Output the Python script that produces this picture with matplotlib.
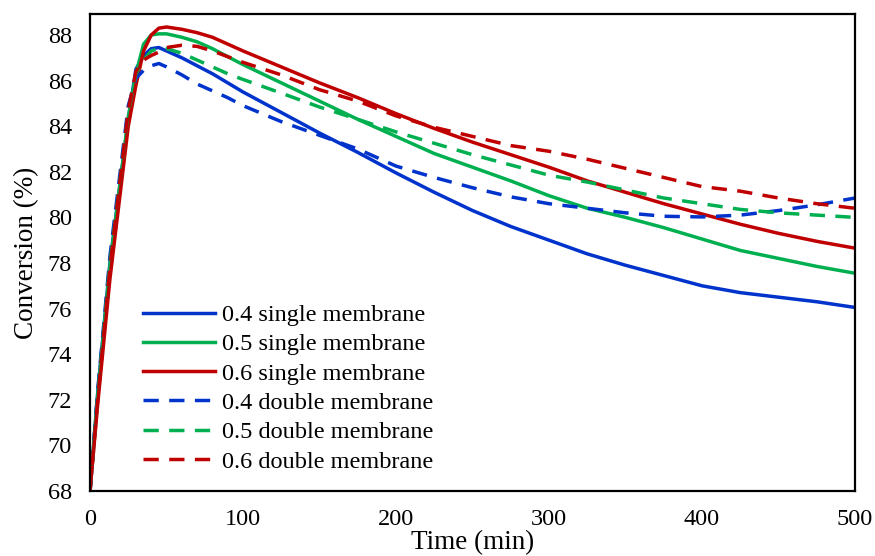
import matplotlib
matplotlib.use("Agg")
import matplotlib.pyplot as plt

plt.rcParams["font.family"] = ["Liberation Serif", "DejaVu Serif"]

# ── Data (time in min, conversion in %) ───────────────────────────────────────
time_min = [0, 5, 13, 25, 30, 35, 40, 45, 50, 60, 70, 80, 90, 100, 125, 150,
            175, 200, 225, 250, 275, 300, 325, 350, 375, 400, 425, 450, 475, 500]

single_04 = [68, 72.3, 78.0, 84.3, 86.5, 87.1, 87.4, 87.45, 87.3, 87.0, 86.65,
             86.3, 85.9, 85.5, 84.6, 83.7, 82.85, 81.95, 81.1, 80.3, 79.6, 79.0,
             78.4, 77.9, 77.45, 77.0, 76.7, 76.5, 76.3, 76.05]
single_05 = [68, 72.2, 77.9, 84.4, 86.3, 87.6, 88.0, 88.05, 88.05, 87.9, 87.7,
             87.4, 87.05, 86.7, 85.9, 85.1, 84.3, 83.55, 82.8, 82.2, 81.6, 80.95,
             80.4, 80.0, 79.55, 79.05, 78.55, 78.2, 77.85, 77.55]
single_06 = [68, 71.8, 77.3, 84.0, 85.8, 87.3, 88.0, 88.3, 88.35, 88.25, 88.1,
             87.9, 87.6, 87.3, 86.6, 85.9, 85.25, 84.55, 83.9, 83.3, 82.75, 82.2,
             81.6, 81.1, 80.6, 80.15, 79.7, 79.3, 78.95, 78.65]
double_04 = [68, 72.4, 78.3, 84.9, 86.1, 86.45, 86.65, 86.75, 86.6, 86.25, 85.85,
             85.55, 85.25, 84.9, 84.2, 83.6, 83.0, 82.25, 81.75, 81.3, 80.9, 80.6,
             80.4, 80.2, 80.05, 80.02, 80.1, 80.3, 80.55, 80.85]
double_05 = [68, 72.2, 78.0, 84.6, 86.3, 86.9, 87.3, 87.4, 87.4, 87.2, 86.9,
             86.6, 86.3, 86.05, 85.45, 84.84, 84.3, 83.75, 83.25, 82.75, 82.3, 81.85,
             81.55, 81.2, 80.85, 80.6, 80.35, 80.2, 80.1, 80.0]
double_06 = [68, 72.0, 77.8, 84.7, 86.4, 86.9, 87.1, 87.25, 87.45, 87.55, 87.5,
             87.3, 87.05, 86.8, 86.25, 85.6, 85.1, 84.45, 83.95, 83.55, 83.15, 82.9,
             82.55, 82.15, 81.75, 81.35, 81.15, 80.85, 80.6, 80.4]

series = [
    ("0.4 single membrane", single_04, "#0033CC", "-"),
    ("0.5 single membrane", single_05, "#00B050", "-"),
    ("0.6 single membrane", single_06, "#C00000", "-"),
    ("0.4 double membrane", double_04, "#0033CC", "--"),
    ("0.5 double membrane", double_05, "#00B050", "--"),
    ("0.6 double membrane", double_06, "#C00000", "--"),
]

fig = plt.figure(figsize=(8.75, 5.56), dpi=100)
ax = fig.add_axes([0.1029, 0.1169, 0.8743, 0.8579])

for label, values, color, style in series:
    line, = ax.plot(time_min, values, color=color, linestyle=style,
                    linewidth=2.5, label=label)
    if style == "--":
        line.set_dashes((4.4, 3.0))

ax.set_xlim(0, 500)
ax.set_ylim(68, 88.92)
ax.set_xticks(range(0, 501, 100))
ax.set_yticks(range(68, 89, 2))
ax.tick_params(length=0, labelsize=17.5)
ax.tick_params(axis="x", pad=13)
ax.tick_params(axis="y", pad=13)
for sp in ax.spines.values():
    sp.set_linewidth(1.6)
    sp.set_color("black")

ax.set_xlabel("Time (min)", fontsize=19.5, labelpad=0)
ax.set_ylabel("Conversion (%)", fontsize=19.5, labelpad=6)

ax.legend(loc="upper left", bbox_to_anchor=(0.069, 0.392), frameon=False,
          fontsize=17.5, handlelength=2.95, handletextpad=0.3,
          labelspacing=0.3, borderpad=0, borderaxespad=0)

fig.savefig("out.png", dpi=100)
